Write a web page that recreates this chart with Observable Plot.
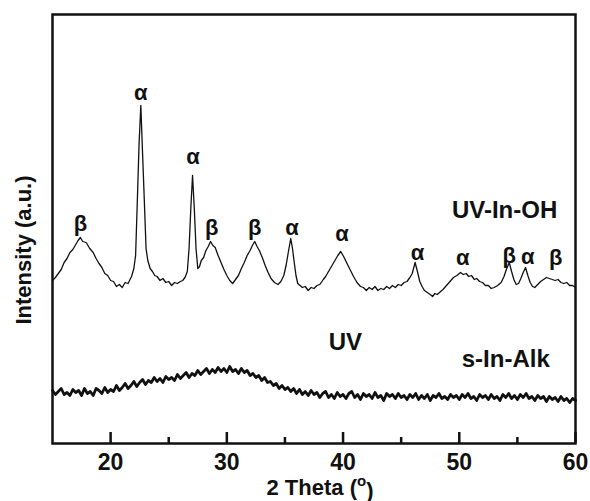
<!DOCTYPE html>
<html><head><meta charset="utf-8">
<script src="https://cdn.jsdelivr.net/npm/d3@7"></script>
<script src="https://cdn.jsdelivr.net/npm/@observablehq/plot@0.6"></script>
<style>body{margin:0;background:#fff}</style>
</head><body><div id="chart"></div>
<script>
// UV-In-OH pattern (2θ in degrees, intensity a.u.)
const ohTheta = [15.0,15.25,15.5,15.75,16.0,16.25,16.5,16.75,17.0,17.2,17.4,17.6,17.9,18.2,18.5,18.75,19.0,19.25,19.5,19.75,20.0,20.25,20.5,20.75,21.0,21.25,21.5,21.8,22.0,22.15,22.3,22.45,22.6,22.75,22.9,23.05,23.2,23.4,23.6,23.8,24.0,24.25,24.5,24.75,25.0,25.25,25.5,25.75,26.0,26.2,26.4,26.6,26.75,26.9,27.05,27.2,27.35,27.5,27.65,27.8,28.0,28.2,28.4,28.6,28.8,29.0,29.25,29.5,29.75,30.0,30.25,30.5,30.75,31.0,31.25,31.5,31.75,32.0,32.2,32.4,32.6,32.8,33.05,33.3,33.55,33.8,34.1,34.4,34.65,34.9,35.1,35.3,35.5,35.65,35.8,35.95,36.1,36.3,36.5,36.75,37.0,37.25,37.5,37.75,38.0,38.3,38.5,38.7,39.0,39.3,39.55,39.8,40.05,40.3,40.6,40.9,41.2,41.5,41.75,42.0,42.25,42.5,42.75,43.0,43.25,43.5,43.75,44.0,44.25,44.5,44.75,45.0,45.25,45.5,45.75,45.95,46.2,46.4,46.6,46.8,47.0,47.25,47.5,47.7,47.9,48.1,48.3,48.6,48.9,49.2,49.5,49.8,50.1,50.35,50.6,50.8,51.05,51.3,51.5,51.75,52.0,52.25,52.5,52.75,53.0,53.3,53.6,53.85,54.05,54.3,54.5,54.7,54.9,55.1,55.3,55.5,55.7,55.9,56.1,56.3,56.5,56.75,57.0,57.25,57.5,57.75,58.0,58.25,58.5,58.75,59.0,59.25,59.5,59.75,60.0];
const ohIntensity = [163,166,170,174,181,185,191,194,199,203,206,202,201,195,191,185,180,176,170,168,163,162,157,159,156,161,160,167,175,188,243,300,338,290,243,195,183,175,172,168,167,163,165,161,162,158,161,160,162,163,166,172,195,235,268,235,195,175,177,183,186,193,197,202,198,196,188,181,174,168,163,160,164,168,175,181,188,193,198,202,197,193,186,178,171,165,161,159,162,168,178,192,205,195,181,168,160,158,156,157,153,156,155,158,159,164,167,171,177,183,188,192,187,181,174,167,161,157,156,153,156,154,157,153,155,154,157,155,158,156,159,158,161,162,166,170,181,172,162,157,153,151,149,147,150,149,151,154,158,162,166,168,171,169,170,167,168,164,165,162,161,158,158,155,156,158,161,167,174,181,172,164,159,160,165,171,176,168,161,157,156,159,162,164,166,165,164,163,164,161,160,161,158,158,156];
// s-In-Alk pattern
const alkTheta = [15.00,15.25,15.50,15.75,16.00,16.25,16.50,16.75,17.00,17.25,17.50,17.75,18.00,18.25,18.50,18.75,19.00,19.25,19.50,19.75,20.00,20.25,20.50,20.75,21.00,21.25,21.50,21.75,22.00,22.25,22.50,22.75,23.00,23.25,23.50,23.75,24.00,24.25,24.50,24.75,25.00,25.25,25.50,25.75,26.00,26.25,26.50,26.75,27.00,27.25,27.50,27.75,28.00,28.25,28.50,28.75,29.00,29.25,29.50,29.75,30.00,30.25,30.50,30.75,31.00,31.25,31.50,31.75,32.00,32.25,32.50,32.75,33.00,33.25,33.50,33.75,34.00,34.25,34.50,34.75,35.00,35.25,35.50,35.75,36.00,36.25,36.50,36.75,37.00,37.25,37.50,37.75,38.00,38.25,38.50,38.75,39.00,39.25,39.50,39.75,40.00,40.25,40.50,40.75,41.00,41.25,41.50,41.75,42.00,42.25,42.50,42.75,43.00,43.25,43.50,43.75,44.00,44.25,44.50,44.75,45.00,45.25,45.50,45.75,46.00,46.25,46.50,46.75,47.00,47.25,47.50,47.75,48.00,48.25,48.50,48.75,49.00,49.25,49.50,49.75,50.00,50.25,50.50,50.75,51.00,51.25,51.50,51.75,52.00,52.25,52.50,52.75,53.00,53.25,53.50,53.75,54.00,54.25,54.50,54.75,55.00,55.25,55.50,55.75,56.00,56.25,56.50,56.75,57.00,57.25,57.50,57.75,58.00,58.25,58.50,58.75,59.00,59.25,59.50,59.75,60.00];
const alkIntensity = [53,49,52,55,49,51,48,54,51,53,48,55,50,52,48,55,53,50,56,51,54,52,58,53,56,60,55,58,62,57,61,64,59,63,61,66,62,65,61,67,64,66,63,69,65,68,71,66,70,68,73,69,72,75,70,74,71,76,72,75,71,77,72,74,70,75,71,73,68,70,66,68,63,66,61,62,58,60,55,58,54,56,52,55,50,54,49,52,48,53,49,51,46,50,52,46,49,45,51,47,49,45,50,52,46,49,44,50,47,49,45,51,46,48,43,50,47,49,45,50,46,48,44,49,46,50,44,48,45,49,43,48,46,50,45,47,44,49,46,48,44,49,46,50,45,47,43,49,46,48,44,49,45,47,43,49,46,50,45,48,44,49,46,50,45,47,43,48,45,47,42,47,44,46,42,47,43,45,41,45,43];
// phase labels over reflections
const peakTheta = [17.4,22.6,27.1,28.7,32.4,35.6,39.9,46.4,50.3,54.3,55.9,58.3];
const peakHeight = [220,351,287,216,216,216,210,191,186,188,187,186];
const peakPhase = ["β","α","α","β","β","α","α","α","α","β","α","β"];
// sample names
const seriesNames = ["UV-In-OH","UV","s-In-Alk"];
const seriesTheta = [53.9,40.2,54.0];
const seriesHeight = [233,101,84];
// axis ticks (inward, lengths in intensity units)
const xTicks = [20,30,40,50,60];
const xMinorTicks = [25,35,45,55];
const majorTickLength = 11;
const minorTickLength = 6;

const oh = ohTheta.map((t,i)=>({t, v: ohIntensity[i]}));
const alk = alkTheta.map((t,i)=>({t, v: alkIntensity[i]}));
const peaks = peakTheta.map((t,i)=>({t, v: peakHeight[i], p: peakPhase[i]}));
const series = seriesNames.map((n,i)=>({n, t: seriesTheta[i], v: seriesHeight[i]}));

const font = "'Liberation Sans', Arial, sans-serif";
const plot = Plot.plot({
  width: 590, height: 501,
  marginLeft: 52, marginRight: 15, marginTop: 14, marginBottom: 58,
  style: {fontFamily: font, fontWeight: "bold", background: "white", color: "#111"},
  x: {domain: [15, 60]},
  y: {domain: [0, 429], axis: null},
  marks: [
    Plot.ruleX(xTicks, {x: d => d, y1: 0, y2: majorTickLength, stroke: "#111", strokeWidth: 2.5}),
    Plot.ruleX(xMinorTicks, {x: d => d, y1: 0, y2: minorTickLength, stroke: "#111", strokeWidth: 2.5}),
    Plot.line(oh, {x: "t", y: "v", stroke: "#111", strokeWidth: 1.3}),
    Plot.line(alk, {x: "t", y: "v", stroke: "#111", strokeWidth: 2.8}),
    Plot.text(peaks, {x: "t", y: "v", text: "p", fontSize: 22, fontWeight: "bold", fill: "#111"}),
    Plot.text(series, {x: "t", y: "v", text: "n", fontSize: 24, fontWeight: "bold", fill: "#111"}),
    Plot.axisX({ticks: xTicks, tickSize: 0, tickPadding: 10, fontSize: 23, fontWeight: "bold", label: null}),
    Plot.frame({stroke: "#111", strokeWidth: 2.5}),
    Plot.text(["Intensity (a.u.)"], {frameAnchor: "left", textAnchor: "middle", lineAnchor: "middle", rotate: -90, dx: -29, dy: 21, fontSize: 22, fontWeight: "bold", fill: "#111"}),
    Plot.text(["2 Theta (o)"], {frameAnchor: "bottom", textAnchor: "middle", lineAnchor: "middle", dx: 6, dy: 44, fontSize: 22, fontWeight: "bold", fill: "#111"})
  ]
});
document.getElementById("chart").appendChild(plot);
d3.select(plot).selectAll("text").filter(function(){ return this.textContent === "2 Theta (o)"; })
  .each(function(){
    const t = d3.select(this); t.text("2 Theta (");
    t.append("tspan").attr("dy", "-0.55em").attr("font-size", "15").text("o");
    t.append("tspan").attr("dy", "0.55em").text(")");
  });
</script>
</body></html>
